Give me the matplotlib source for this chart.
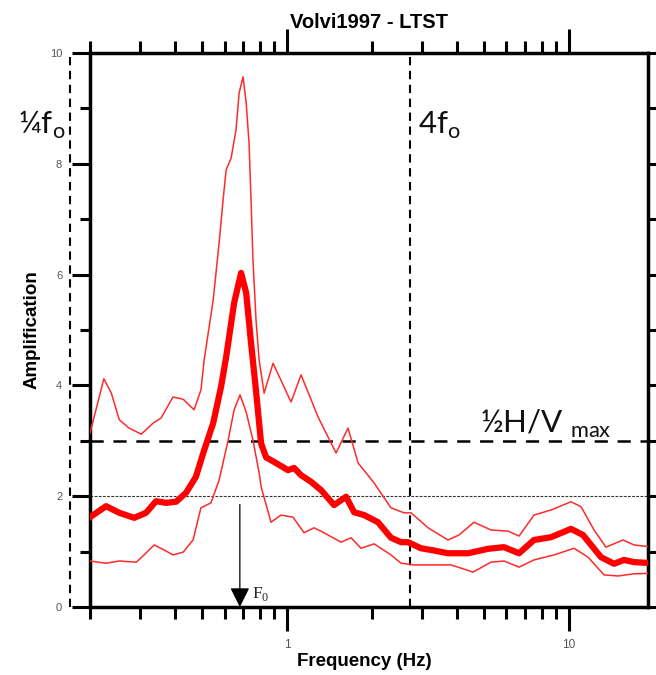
import matplotlib
matplotlib.use("Agg")
import matplotlib.pyplot as plt
from matplotlib.ticker import FixedLocator, FixedFormatter, LogLocator, MultipleLocator, NullFormatter

# H/V spectral ratio, mean and +/- one standard deviation
freq_mean = [0.20, 0.228, 0.254, 0.287, 0.316, 0.343, 0.372, 0.404, 0.438, 0.475,
             0.508, 0.547, 0.583, 0.608, 0.649, 0.687, 0.716, 0.745, 0.776, 0.809,
             0.843, 0.899, 1.008, 1.059, 1.121, 1.216, 1.32, 1.468, 1.619, 1.729,
             1.875, 2.102, 2.336, 2.537, 2.685, 2.986, 3.32, 3.72, 4.385, 5.16,
             5.88, 6.65, 7.51, 8.63, 10.16, 11.21, 12.98, 14.45, 15.67, 17.0, 20.0]
amp_mean = [1.62, 1.82, 1.70, 1.61, 1.70, 1.91, 1.88, 1.90, 2.06, 2.35,
            2.83, 3.32, 3.97, 4.51, 5.49, 6.03, 5.67, 4.77, 3.9, 2.95,
            2.70, 2.62, 2.47, 2.51, 2.38, 2.26, 2.11, 1.84, 1.99, 1.71,
            1.66, 1.53, 1.25, 1.17, 1.17, 1.06, 1.02, 0.97, 0.97, 1.05,
            1.08, 0.97, 1.21, 1.26, 1.41, 1.30, 0.90, 0.78, 0.85, 0.81, 0.79]

freq_upper = [0.20, 0.224, 0.238, 0.254, 0.275, 0.304, 0.335, 0.357, 0.394, 0.428,
              0.468, 0.495, 0.508, 0.547, 0.574, 0.593, 0.608, 0.633, 0.659, 0.676,
              0.698, 0.716, 0.733, 0.745, 0.757, 0.776, 0.796, 0.829, 0.892, 1.033,
              1.121, 1.288, 1.397, 1.492, 1.645, 1.786, 2.035, 2.336, 2.60, 2.753,
              3.163, 3.722, 4.074, 4.60, 5.289, 6.078, 6.65, 7.513, 8.633, 10.16,
              11.03, 12.27, 13.52, 15.54, 17.0, 20.0]
amp_upper = [3.14, 4.12, 3.86, 3.38, 3.23, 3.12, 3.32, 3.41, 3.79, 3.75,
             3.56, 3.92, 4.46, 5.54, 6.57, 7.35, 7.89, 8.10, 8.61, 9.28,
             9.57, 9.10, 8.38, 7.35, 6.26, 5.18, 4.46, 3.86, 4.40, 3.70,
             4.19, 3.43, 3.07, 2.78, 3.23, 2.60, 2.24, 1.79, 1.70, 1.70,
             1.43, 1.21, 1.30, 1.53, 1.39, 1.37, 1.28, 1.66, 1.75, 1.90,
             1.81, 1.39, 1.08, 1.21, 1.12, 1.08]

freq_lower = [0.20, 0.228, 0.254, 0.292, 0.311, 0.338, 0.366, 0.394, 0.428, 0.464,
              0.495, 0.537, 0.574, 0.618, 0.649, 0.681, 0.716, 0.757, 0.796, 0.809,
              0.877, 0.952, 1.05, 1.149, 1.247, 1.352, 1.554, 1.686, 1.829, 2.035,
              2.336, 2.537, 2.82, 3.322, 3.817, 4.567, 5.289, 5.883, 6.65, 7.513,
              8.848, 10.42, 11.68, 13.30, 14.93, 17.0, 20.0]
amp_lower = [0.83, 0.79, 0.83, 0.81, 0.94, 1.12, 1.03, 0.94, 0.99, 1.21,
             1.79, 1.88, 2.29, 3.01, 3.56, 3.83, 3.52, 3.01, 2.42, 2.17,
             1.53, 1.66, 1.62, 1.34, 1.43, 1.34, 1.17, 1.25, 1.06, 1.14,
             0.94, 0.79, 0.76, 0.76, 0.76, 0.63, 0.81, 0.83, 0.72, 0.85,
             0.94, 1.06, 0.90, 0.58, 0.56, 0.60, 0.61]

f0 = 0.68            # fundamental frequency
hv_half = 3.0        # half of the H/V peak
threshold = 2.0      # amplification threshold
x_ticks = [1, 10]
x_tick_labels = ["1", "10"]

plt.rcParams["lines.scale_dashes"] = False
plt.rcParams["font.family"] = ["Liberation Sans", "DejaVu Sans"]

fig = plt.figure(figsize=(6.56, 6.75), dpi=100)
ax = fig.add_axes([90 / 656, 68 / 675, 558 / 656, 554 / 675])
ax.set_xscale("log")
ax.set_xlim(0.2, 19.06)
ax.set_ylim(0, 10)

# curves
ax.plot(freq_upper, amp_upper, color="#ff2a2a", lw=1.1, zorder=3)
ax.plot(freq_lower, amp_lower, color="#ff2a2a", lw=1.1, zorder=3)
ax.plot(freq_mean, amp_mean, color="#ff0000", lw=4.5, solid_joinstyle="round", zorder=4)

# reference lines
ax.axhline(hv_half, color="black", lw=1.8, ls=(0, (9.5, 7)), zorder=2)
ax.axhline(threshold, color="#333333", lw=0.8, ls=(0, (2, 1)), zorder=2)
ax.axvline(4 * f0, color="black", lw=1.5, ls=(0, (6, 4)), zorder=2)
ax.axvline(f0 / 4, color="black", lw=1.5, ls=(0, (6, 4)), zorder=2, clip_on=False)

# F0 marker
ax.annotate("", xy=(f0, 0), xytext=(f0, 1.85),
            arrowprops=dict(arrowstyle="-|>", color="black", lw=0.9,
                            mutation_scale=30, shrinkA=0, shrinkB=0),
            annotation_clip=False, zorder=5)
ax.annotate(r"F$_\mathregular{0}$", xy=(f0, 0), xytext=(9, 3), textcoords="offset points",
            fontsize=12.5, family="Liberation Serif", color="#222222",
            ha="left", va="bottom", annotation_clip=False)

# labels for the frequency band and amplitude criterion
lab_font = dict(family=["Lato", "DejaVu Sans"], fontsize=22.5, color="#111111")
ax.annotate(r"¼f$_\mathregular{o}$", xy=(f0 / 4, 8.54), xytext=(-3, 0),
            textcoords="offset points", ha="right", va="baseline",
            annotation_clip=False, **lab_font)
ax.annotate(r"4f$_\mathregular{o}$", xy=(4 * f0, 8.54), xytext=(6, 0),
            textcoords="offset points", ha="left", va="baseline", **lab_font)
ax.text(4.85, 3.14, r"½H/V $_\mathregular{max}$", ha="left", va="baseline", **lab_font)

# axes styling
for sp in ax.spines.values():
    sp.set_linewidth(2.5)

ax.yaxis.set_major_locator(MultipleLocator(2))
ax.yaxis.set_minor_locator(MultipleLocator(1))
ax.xaxis.set_major_locator(FixedLocator(x_ticks))
ax.xaxis.set_major_formatter(FixedFormatter(x_tick_labels))
ax.xaxis.set_minor_locator(LogLocator(base=10, subs=(2, 3, 4, 5, 6, 7, 8, 9)))
ax.xaxis.set_minor_formatter(NullFormatter())

ax.tick_params(axis="y", which="major", direction="out", length=13, width=2.2,
               left=True, right=True, labelsize=8, labelcolor="#555555", pad=7)
ax.tick_params(axis="y", which="minor", direction="out", length=7, width=2.2,
               left=True, right=True)
ax.tick_params(axis="x", which="major", direction="out", length=17, width=2.2,
               bottom=True, top=True, labelsize=8.5, labelcolor="#555555", pad=6)
ax.tick_params(axis="x", which="minor", direction="out", length=8.5, width=2.2,
               bottom=True, top=True)

ax.set_title("Volvi1997 - LTST", fontsize=14.5, fontweight="bold", pad=18)
fig.text(32 / 656, 1 - 330 / 675, "Amplification", rotation=90, ha="center", va="center",
         fontsize=13.5, fontweight="bold")
fig.text(364 / 656, 1 - 662 / 675, "Frequency (Hz)", ha="center", va="center",
         fontsize=13.5, fontweight="bold")

fig.savefig("out.png", dpi=100)
